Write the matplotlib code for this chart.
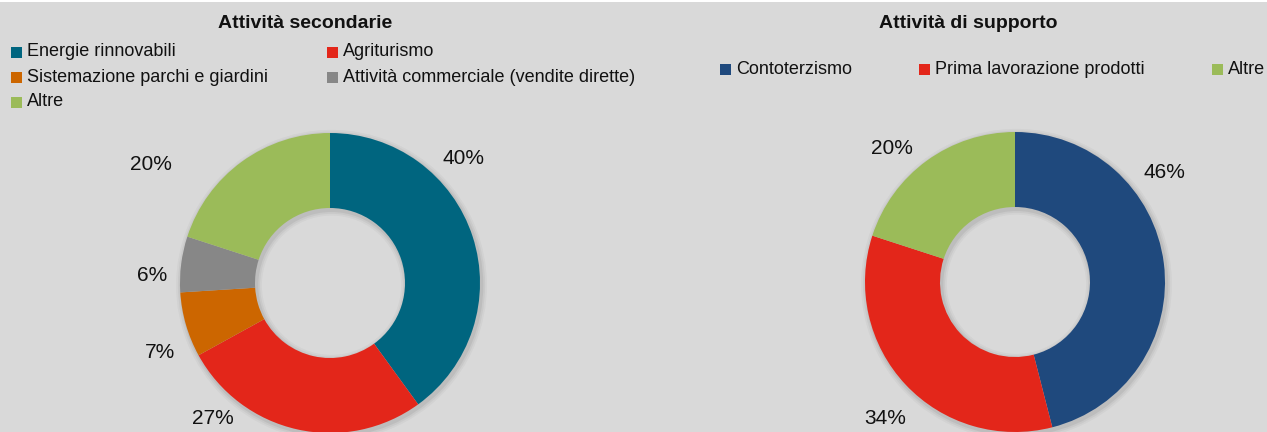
import matplotlib.pyplot as plt
from matplotlib.patches import Rectangle

# data
sec_labels = ['Energie rinnovabili', 'Agriturismo', 'Sistemazione parchi e giardini',
              'Attività commerciale (vendite dirette)', 'Altre']
sec_values = [40, 27, 7, 6, 20]
sec_colors = ['#00657f', '#e3261a', '#cc6600', '#878787', '#9bbb59']

sup_labels = ['Contoterzismo', 'Prima lavorazione prodotti', 'Altre']
sup_values = [46, 34, 20]
sup_colors = ['#1f497d', '#e3261a', '#9bbb59']

# label offsets (in units of outer radius) as placed in the original
sec_label_xy = [(0.893, 0.827), (-0.78, -0.90), (-1.133, -0.46), (-1.187, 0.053), (-1.193, 0.787)]
sup_label_xy = [(0.993, 0.727), (-0.867, -0.907), (-0.82, 0.893)]

W, H = 1267, 432
bg = '#d9d9d9'
plt.rcParams['font.family'] = ['Liberation Sans', 'DejaVu Sans']

fig = plt.figure(figsize=(W / 100, H / 100), dpi=100, facecolor=bg)
fig.patches.append(Rectangle((0, 1 - 2 / H), 1, 2 / H, transform=fig.transFigure,
                             facecolor='white', edgecolor='none'))

R = 150  # px per unit radius
SPAN = 1.6


def donut(cx, cy, values, colors, label_xy):
    # cx, cy: centre in pixels (y from bottom)
    half = SPAN * R
    ax = fig.add_axes([(cx - half) / W, (cy - half) / H, 2 * half / W, 2 * half / H])
    ax.set_facecolor('none')
    # soft shadow
    for i, a in enumerate([0.05, 0.04, 0.03]):
        ax.pie([1], radius=1.0 + 0.012 * (i + 1), center=(0.01, -0.015), colors=['#000000'],
               wedgeprops=dict(width=0.5 + 0.024 * (i + 1), alpha=a, edgecolor='none'))
    ax.pie(values, colors=colors, startangle=90, counterclock=False, radius=1.0,
           wedgeprops=dict(width=0.5, edgecolor='none'))
    for v, (x, y) in zip(values, label_xy):
        ax.text(x, y, f'{v}%', ha='center', va='center', fontsize=15, color='#111111')
    ax.set_xlim(-SPAN, SPAN)
    ax.set_ylim(-SPAN, SPAN)
    ax.set_aspect('equal')
    ax.axis('off')


donut(330, H - 283, sec_values, sec_colors, sec_label_xy)
donut(1015, H - 282, sup_values, sup_colors, sup_label_xy)

# titles
fig.text(305 / W, 1 - 24 / H, 'Attività secondarie', ha='center', va='center',
         fontsize=14, fontweight='bold', color='#111111')
fig.text(968 / W, 1 - 24 / H, 'Attività di supporto', ha='center', va='center',
         fontsize=14, fontweight='bold', color='#111111')


def legend_entry(x, y, color, label):
    s = 11
    fig.patches.append(Rectangle((x / W, 1 - (y + s / 2) / H), s / W, s / H,
                                 transform=fig.transFigure, facecolor=color, edgecolor='none'))
    fig.text((x + 16) / W, 1 - y / H, label, ha='left', va='center', fontsize=13, color='#111111')


# left legend: 2 columns, row-wise
for i, (lab, col) in enumerate(zip(sec_labels, sec_colors)):
    legend_entry(11 + 316 * (i % 2), 52 + 25 * (i // 2), col, lab)

# right legend: single row
for x, lab, col in zip([720, 919, 1212], sup_labels, sup_colors):
    legend_entry(x, 69, col, lab)

fig.savefig('out.png', dpi=100, facecolor=bg)
